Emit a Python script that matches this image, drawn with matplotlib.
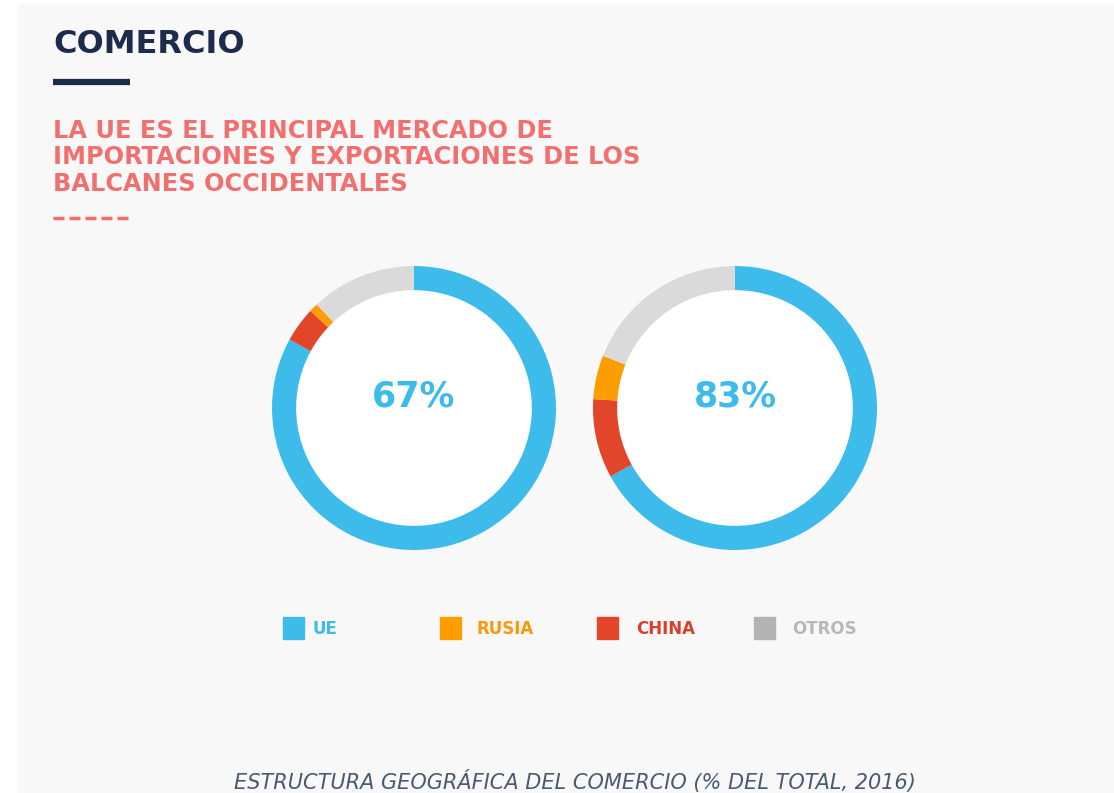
import matplotlib.pyplot as plt
from matplotlib.patches import Rectangle, Circle

# Datos (orden del anillo: UE, CHINA, RUSIA, OTROS en sentido horario desde arriba)
categorias = ['UE', 'RUSIA', 'CHINA', 'OTROS']
anillo_izq = {'UE': 83, 'RUSIA': 1, 'CHINA': 4, 'OTROS': 12}
anillo_der = {'UE': 67, 'RUSIA': 5, 'CHINA': 9, 'OTROS': 19}
etiquetas_centro = ['67%', '83%']
orden_anillo = ['UE', 'CHINA', 'RUSIA', 'OTROS']

colores_anillo = {'UE': '#3dbbeb', 'RUSIA': '#fd9d00', 'CHINA': '#e3452b', 'OTROS': '#dadada'}
colores_leyenda = {'UE': '#3dbbeb', 'RUSIA': '#fd9d00', 'CHINA': '#e3452b', 'OTROS': '#b3b3b3'}
colores_texto = {'UE': '#3dbbeb', 'RUSIA': '#f59a10', 'CHINA': '#d9402c', 'OTROS': '#b8b8b8'}

W, H = 1114, 793
fig = plt.figure(figsize=(W / 100, H / 100), dpi=100)
fig.patch.set_facecolor('white')

# Capa de fondo en coordenadas de pixeles
bg = fig.add_axes([0, 0, 1, 1])
bg.set_xlim(0, W)
bg.set_ylim(H, 0)
bg.axis('off')
bg.add_patch(Rectangle((18, 5), W - 18, H - 5, color='#f8f8f8', zorder=0))

# Titulo
bg.text(53, 53, 'COMERCIO', fontsize=23, fontweight='bold', color='#1d2b4c',
        va='baseline', ha='left')
bg.plot([53, 130], [82, 82], color='#1d2b4c', lw=4.5, solid_capstyle='butt')

# Subtitulo
lineas = ['LA UE ES EL PRINCIPAL MERCADO DE',
          'IMPORTACIONES Y EXPORTACIONES DE LOS',
          'BALCANES OCCIDENTALES']
for i, l in enumerate(lineas):
    bg.text(53, 138 + i * 26.5, l, fontsize=17.3, fontweight='bold', color='#f26f6f',
            va='baseline', ha='left')
for k in range(5):
    bg.plot([53 + k * 16, 53 + k * 16 + 11], [218, 218], color='#f26f6f', lw=2.5,
            solid_capstyle='butt')

# Anillos
centros = [(414, 408), (735, 408)]
radio = 142
for (cx, cy), datos, etiq in zip(centros, [anillo_izq, anillo_der], etiquetas_centro):
    ax = fig.add_axes([(cx - radio) / W, 1 - (cy + radio) / H, 2 * radio / W, 2 * radio / H])
    ax.add_patch(Circle((0, 0), 1 - 0.17, color='white', zorder=0))
    ax.pie([datos[c] for c in orden_anillo], colors=[colores_anillo[c] for c in orden_anillo],
           startangle=90, counterclock=False, radius=1,
           wedgeprops=dict(width=0.17, linewidth=0))
    ax.text(0.0, 0.01, etiq, fontsize=25, fontweight='bold', color='#3dbbeb',
            ha='center', va='baseline')
    ax.set_xlim(-1, 1)
    ax.set_ylim(-1, 1)
    ax.axis('off')

# Leyenda
x_cuadro = [283, 440, 597, 754]
x_texto = [313, 477, 636, 792]
for c, xc, xt in zip(categorias, x_cuadro, x_texto):
    bg.add_patch(Rectangle((xc, 617), 21, 22, color=colores_leyenda[c]))
    bg.text(xt, 634, c, fontsize=12, fontweight='bold', color=colores_texto[c],
            ha='left', va='baseline')

# Pie de grafico
bg.text(575, 789, 'ESTRUCTURA GEOGRÁFICA DEL COMERCIO (% DEL TOTAL, 2016)', fontsize=15,
        style='italic', color='#4b5a70', ha='center', va='baseline')

fig.savefig('out.png', dpi=100, facecolor=fig.get_facecolor())
